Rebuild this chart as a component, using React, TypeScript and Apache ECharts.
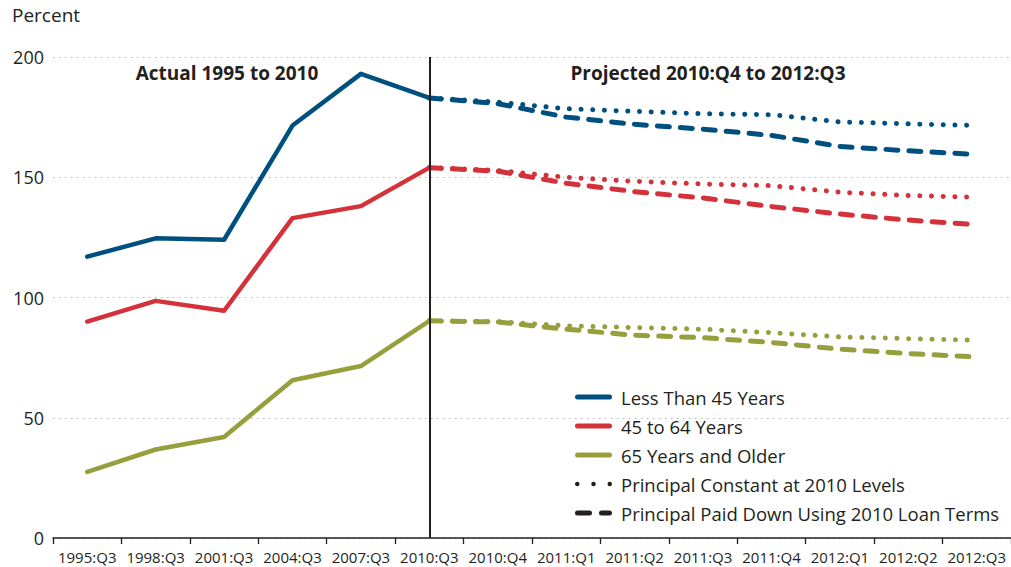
import React, { useEffect, useRef } from "react";
import * as echarts from "echarts";

const categories = [
  "1995:Q3", "1998:Q3", "2001:Q3", "2004:Q3", "2007:Q3", "2010:Q3", "2010:Q4",
  "2011:Q1", "2011:Q2", "2011:Q3", "2011:Q4", "2012:Q1", "2012:Q2", "2012:Q3",
];

// Actual values 1995:Q3 .. 2010:Q3
const under45Actual = [117, 124.6, 124, 171.5, 193, 183];
const age45to64Actual = [90, 98.6, 94.5, 133, 138, 154];
const over65Actual = [27.5, 36.8, 42, 65.6, 71.5, 90.3];

// Projected values 2010:Q3 .. 2012:Q3
const under45Constant = [183, 181.2, 178.5, 177.4, 176.4, 176, 173, 172.2, 171.5];
const under45Paid = [183, 180.6, 175, 172, 170, 167.4, 162.8, 161, 159.5];
const age45to64Constant = [154, 152.8, 150, 148.3, 147.2, 146.5, 143.8, 142.4, 141.7];
const age45to64Paid = [154, 152.5, 147.5, 144, 141.4, 137.8, 134.7, 132.2, 130.3];
const over65Constant = [90.3, 90, 88.2, 87.5, 86.8, 85.4, 83.6, 82.9, 82.2];
const over65Paid = [90.3, 89.8, 86.8, 84.3, 83.3, 81.3, 78.5, 76.7, 75.3];

const yTicks = [0, 50, 100, 150, 200];

const BLUE = "#00507f";
const RED = "#d4313b";
const GREEN = "#95a03d";
const INK = "#231f20";
const FONT = "Open Sans";

const NAME_U45 = "Less Than 45 Years";
const NAME_45 = "45 to 64 Years";
const NAME_65 = "65 Years and Older";
const NAME_CONST = "Principal Constant at 2010 Levels";
const NAME_PAID = "Principal Paid Down Using 2010 Loan Terms";

const actualData = (vals: number[]) =>
  categories.map((_, i) => (i < vals.length ? vals[i] : null));
const projData = (vals: number[]) => {
  const start = categories.length - vals.length;
  return categories.map((_, i) => (i >= start ? vals[i - start] : null));
};

const DOT: any = [0.1, 11.6];
const DASH: any = [12, 11];

const solidIcon = "path://M2.5,0L34.5,0A2.5,2.5,0,0,1,34.5,5L2.5,5A2.5,2.5,0,0,1,2.5,0Z";
const dotIcon =
  "path://M0,2.25A2.25,2.25,0,1,0,4.5,2.25A2.25,2.25,0,1,0,0,2.25Z" +
  "M16.25,2.25A2.25,2.25,0,1,0,20.75,2.25A2.25,2.25,0,1,0,16.25,2.25Z" +
  "M32.5,2.25A2.25,2.25,0,1,0,37,2.25A2.25,2.25,0,1,0,32.5,2.25Z";
const dashIcon =
  "path://M2.5,0L14.5,0A2.5,2.5,0,0,1,14.5,5L2.5,5A2.5,2.5,0,0,1,2.5,0Z" +
  "M26.5,0L34.5,0A2.5,2.5,0,0,1,34.5,5L26.5,5A2.5,2.5,0,0,1,26.5,0Z";

function solid(name: string, color: string, vals: number[], extra: any = {}) {
  return {
    name,
    type: "line",
    data: actualData(vals),
    symbol: "none",
    color,
    lineStyle: { color, width: 4.5, cap: "round", join: "round" },
    z: 3,
    ...extra,
  };
}

function projected(name: string, color: string, vals: number[], type: any) {
  return {
    name,
    type: "line",
    data: projData(vals),
    symbol: "none",
    color,
    lineStyle: { color, width: 5, type, cap: "round", join: "round" },
    z: 3,
  };
}

export default function App() {
  const ref = useRef<HTMLDivElement>(null);

  useEffect(() => {
    if (!ref.current) return;
    const chart = echarts.init(ref.current, undefined, { renderer: "svg" });
    const option: any = {
      animation: false,
      textStyle: { fontFamily: FONT, color: INK },
      grid: { left: 53, right: 0, top: 57, bottom: 29, containLabel: false },
      xAxis: {
        type: "category",
        data: categories,
        boundaryGap: true,
        axisLine: { show: true, lineStyle: { color: INK, width: 1.5 } },
        axisTick: { show: true, length: 6, lineStyle: { color: INK, width: 1.3 } },
        axisLabel: { interval: 0, fontSize: 15, color: INK, margin: 11, fontFamily: FONT },
        splitLine: { show: false },
      },
      yAxis: {
        type: "value",
        min: yTicks[0],
        max: yTicks[yTicks.length - 1],
        interval: 50,
        axisLine: { show: false },
        axisTick: { show: false },
        axisLabel: { fontSize: 18, color: INK, margin: 9, fontFamily: FONT },
        splitLine: { show: true, lineStyle: { color: "#b5b5b5", width: 1.2, type: [1.5, 4.5] } },
      },
      legend: {
        orient: "vertical",
        left: 575,
        top: 387,
        padding: 0,
        itemWidth: 37,
        itemHeight: 6,
        itemGap: 9,
        selectedMode: false,
        textStyle: { fontSize: 18.5, color: INK, fontFamily: FONT, lineHeight: 20, padding: [0, 0, 0, 4] },
        data: [
          { name: NAME_U45, icon: solidIcon },
          { name: NAME_45, icon: solidIcon },
          { name: NAME_65, icon: solidIcon },
          { name: NAME_CONST, icon: dotIcon },
          { name: NAME_PAID, icon: dashIcon },
        ],
      },
      graphic: [
        {
          type: "text",
          left: 12,
          top: 5,
          style: { text: "Percent", fontSize: 19, fill: INK, fontFamily: FONT },
        },
        {
          type: "text",
          x: 227,
          y: 73,
          style: {
            text: "Actual 1995 to 2010",
            fontSize: 19,
            fontWeight: "bold",
            fill: INK,
            fontFamily: FONT,
            align: "center",
            verticalAlign: "middle",
          },
        },
        {
          type: "text",
          x: 708,
          y: 73,
          style: {
            text: "Projected 2010:Q4 to 2012:Q3",
            fontSize: 19,
            fontWeight: "bold",
            fill: INK,
            fontFamily: FONT,
            align: "center",
            verticalAlign: "middle",
          },
        },
      ],
      series: [
        solid(NAME_U45, BLUE, under45Actual, {
          markLine: {
            silent: true,
            symbol: ["none", "none"],
            label: { show: false },
            lineStyle: { color: INK, width: 2, type: "solid" },
            data: [{ xAxis: "2010:Q3" }],
            z: 5,
          },
        }),
        solid(NAME_45, RED, age45to64Actual),
        solid(NAME_65, GREEN, over65Actual),
        projected("u45-constant", BLUE, under45Constant, DOT),
        projected("u45-paid", BLUE, under45Paid, DASH),
        projected("45-constant", RED, age45to64Constant, DOT),
        projected("45-paid", RED, age45to64Paid, DASH),
        projected("65-constant", GREEN, over65Constant, DOT),
        projected("65-paid", GREEN, over65Paid, DASH),
        { name: NAME_CONST, type: "line", data: [], color: INK, symbol: "none" },
        { name: NAME_PAID, type: "line", data: [], color: INK, symbol: "none" },
      ],
    };
    chart.setOption(option);
    return () => chart.dispose();
  }, []);

  return (
    <div
      ref={ref}
      style={{ position: "fixed", left: 0, top: 0, width: 1011, height: 567, background: "#fff" }}
    />
  );
}
